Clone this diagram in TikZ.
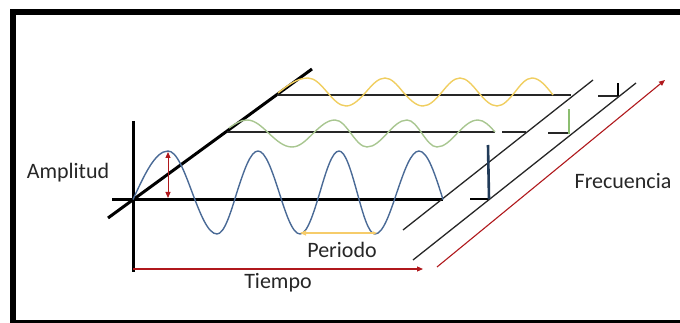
\documentclass[tikz,border=0pt]{standalone}
\usepackage{fontspec}
\setmainfont{Carlito}
\usetikzlibrary{arrows.meta}
\definecolor{blueW}{HTML}{4A6A96}
\definecolor{yellowW}{HTML}{F0CE60}
\definecolor{greenW}{HTML}{A8C690}
\definecolor{navy}{HTML}{203A58}
\definecolor{redA}{HTML}{B0181C}
\definecolor{ybar}{HTML}{E6B020}
\definecolor{gbar}{HTML}{8CBE70}
\definecolor{perA}{HTML}{F6CC6A}
\tikzset{
  thickaxis/.style={line width=3pt,black},
  thinline/.style={line width=1.5pt,black!85},
  wave/.style={line width=1.4pt},
  redarrow/.style={line width=1.1pt,redA,-{Triangle[length=6pt,width=5pt]}},
  lbl/.style={font=\fontsize{22}{24}\selectfont,inner sep=0pt,text=black!85}
}
\begin{document}
\begin{tikzpicture}[x=1pt,y=-1pt]
\useasboundingbox (0,0) rectangle (680,323);
% frame
\draw[line width=6pt] (13,12) rectangle (700,322.5);

% coordinates
\coordinate (O) at (133,199.5);
\coordinate (vtop) at (133,121);
\coordinate (vbot) at (133,272);
\coordinate (hl) at (112,199.5);
\coordinate (hr) at (443,199.5);
\coordinate (d1) at (108,218);
\coordinate (d2) at (312,69);
\coordinate (ys) at (276.5,95);
\coordinate (ye) at (571,95);
\coordinate (gs) at (227,132);
\coordinate (ge) at (495,132);
\coordinate (l1a) at (403,230);
\coordinate (l1b) at (593,80);
\coordinate (l2a) at (413,260);
\coordinate (l2b) at (636,83);
\coordinate (rfa) at (437,267);
\coordinate (rfb) at (665,80);

% black axes
\draw[thickaxis] (vtop) -- (vbot);
\draw[thickaxis] (hl) -- (hr);
\draw[thickaxis] (d1) -- (d2);

% horizontal thin lines
\draw[thinline] (ys) -- (ye);
\draw[thinline] (gs) -- (ge);
\coordinate (gd1) at (502,132); \coordinate (gd2) at (526,132);
\draw[thinline] (gd1) -- (gd2);
\coordinate (gd3) at (548,133); \coordinate (gd4) at (570,133);
\draw[thinline] (gd3) -- (gd4);
\coordinate (yd1) at (598,96); \coordinate (yd2) at (618,96);
\draw[thinline] (yd1) -- (yd2);
\coordinate (bd1) at (470,199); \coordinate (bd2) at (489,199);
\draw[line width=2.2pt] (bd1) -- (bd2);

% diagonal thin lines
\draw[thinline,line width=1.3pt] (l1a) -- (l1b);
\draw[thinline,line width=1.3pt] (l2a) -- (l2b);

% bars
\coordinate (bb) at (488,145);
\draw[line width=2.6pt,navy] (bd2) -- (bb);
\coordinate (gb1) at (569,134); \coordinate (gb2) at (569,109);
\draw[line width=2.6pt,gbar] (gb1) -- (gb2);
\coordinate (yb1) at (618,96); \coordinate (yb2) at (618,83);
\draw[line width=2.6pt,ybar] (yb1) -- (yb2);

% blue wave
\draw[wave,blueW] (O) sin (168,151) cos (192,192) sin (217,234) cos (237,192)
  sin (258,151) cos (279,192) sin (300,234) cos (320,192)
  sin (339,151) cos (357,192) sin (375,234) cos (397,192)
  sin (419,151) cos (hr);

% green wave
\draw[wave,greenW] (229,128) sin (247,120) cos (269,133.5) sin (292,147) cos (313,133.5)
  sin (335,120) cos (351,133.5) sin (367,147) cos (387,133.5)
  sin (407,120) cos (422,133.5) sin (437,147) cos (457,133.5)
  sin (478,120) cos (ge);

% yellow wave
\draw[wave,yellowW] (278,93) sin (308,78) cos (327,92) sin (346,106) cos (366,92)
  sin (385,78) cos (403,92) sin (423,106) cos (442,92)
  sin (460,78) cos (478,92) sin (497,106) cos (515,92)
  sin (532,78) cos (553,95);

% amplitude arrow
\coordinate (aa) at (168,152);
\coordinate (ab) at (168,198);
\draw[line width=1pt,redA,{Triangle[length=6pt,width=5pt]}-{Triangle[length=6pt,width=5pt]}] (aa) -- (ab);

% tiempo arrow
\coordinate (ta) at (133,269);
\coordinate (tb) at (423,269);
\draw[redarrow] (ta) -- (tb);

% frecuencia arrow
\draw[redarrow] (rfa) -- (rfb);

% periodo arrow
\coordinate (pa) at (300,233);
\coordinate (pb) at (377,233);
\draw[line width=1.2pt,perA,{Triangle[length=6pt,width=5pt]}-{Triangle[length=4pt,width=3pt]}] (pa) -- (pb);

% labels
\node[lbl] (amp) at (68,173) {Amplitud};
\node[lbl] (tie) at (278,283) {Tiempo};
\node[lbl] (per) at (342,250) {Periodo};
\node[lbl] (fre) at (623,181) {Frecuencia};
\end{tikzpicture}
\end{document}
